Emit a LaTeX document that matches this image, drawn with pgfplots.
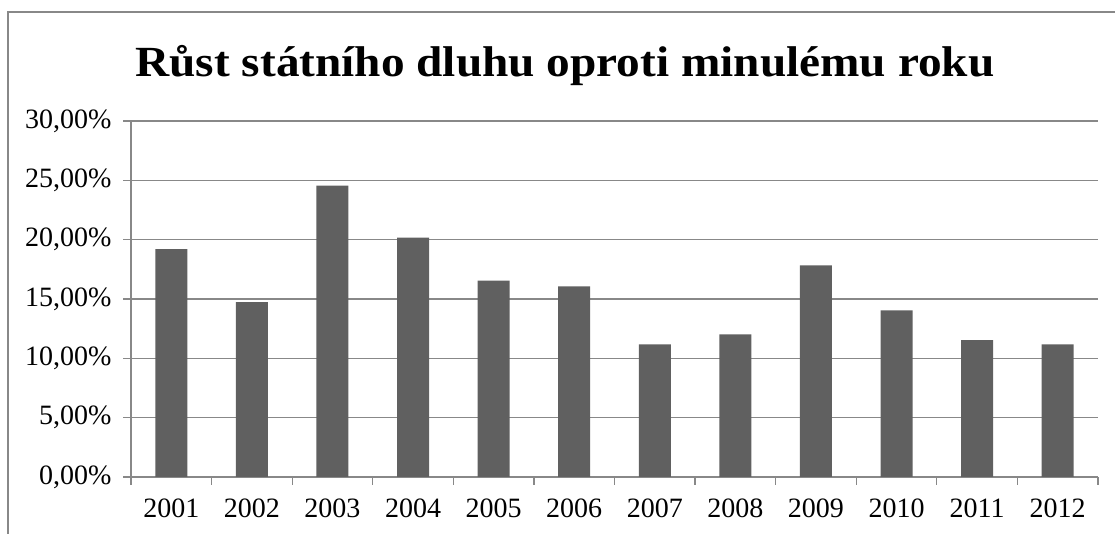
\documentclass[border=0pt]{standalone}
\usepackage{fontspec}
\setmainfont{Liberation Serif}
\usepackage{pgfplots}
\pgfplotsset{compat=1.18}
\definecolor{barc}{HTML}{606060}
\definecolor{gridc}{HTML}{888888}
\begin{document}
\begin{tikzpicture}[x=1pt,y=1pt]
\useasboundingbox (0,0) rectangle (1115,534);
\draw[gridc, line width=1.5pt] (8,0) -- (8,522) -- (1116,522);
\node[anchor=base, xscale=1.1, font=\fontsize{43}{50}\selectfont\bfseries] at (565,457) {Růst státního dluhu oproti minulému roku};
\begin{axis}[
  at={(131pt,57pt)}, anchor=south west,
  scale only axis, width=967pt, height=356pt,
  xmin=0.5, xmax=12.5, ymin=0, ymax=30,
  axis x line*=bottom, axis y line*=left,
  axis line style={gridc, line width=1.2pt},
  ymajorgrids, grid style={gridc, line width=1.2pt},
  ytick={0,5,...,30},
  yticklabels={{0,00\%},{5,00\%},{10,00\%},{15,00\%},{20,00\%},{25,00\%},{30,00\%}},
  xtick={1,...,12},
  xticklabels={2001,2002,2003,2004,2005,2006,2007,2008,2009,2010,2011,2012},
  minor xtick={0.5,1.5,...,12.5},
  tick align=outside,
  major tick length=8pt, minor tick length=8pt,
  x tick style={draw=none},
  minor x tick style={draw=gridc, line width=1.2pt},
  y tick style={gridc, line width=1.2pt},
  ticklabel style={font=\fontsize{28}{33}\selectfont},
  yticklabel style={xshift=-8pt},
  xticklabel style={yshift=-10pt},
  clip=false,
]
\addplot[ybar, bar width=32pt, fill=barc, draw=none] coordinates {
(1,19.2) (2,14.74) (3,24.55) (4,20.17) (5,16.54) (6,16.06)
(7,11.18) (8,12.02) (9,17.83) (10,14.04) (11,11.54) (12,11.18)
};
\end{axis}
\end{tikzpicture}
\end{document}
